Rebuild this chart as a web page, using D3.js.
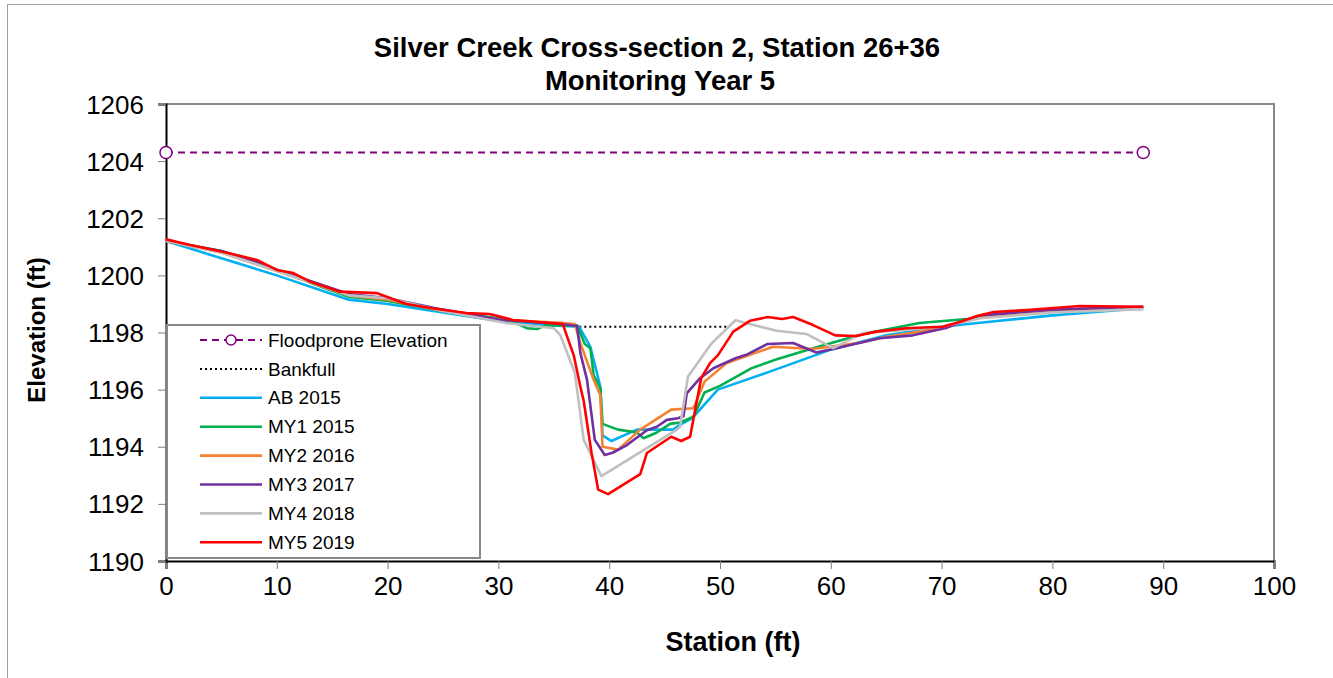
<!DOCTYPE html>
<html>
<head>
<meta charset="utf-8">
<script src="https://cdn.jsdelivr.net/npm/d3@7"></script>
<style>
  body { margin: 0; background: #ffffff; }
  svg { font-family: "Liberation Sans", Arial, sans-serif; }
</style>
</head>
<body>
<svg id="chart"></svg>
<script>
const width = 1333
const height = 678

// Data
const floodX = [0, 88.2]
const floodY = [1204.3, 1204.3]
const bankfullX = [37.3, 50.9]
const bankfullY = [1198.2, 1198.2]

const abX = [0, 5, 10, 16.5, 20, 25, 30, 35, 37.3, 38.3, 39.2, 39.4, 40.2, 42.5, 45.8, 46.3, 47.5, 49.8, 55, 60, 65, 70, 75, 80, 85, 88.2]
const abY = [1201.2, 1200.6, 1200.0, 1199.15, 1199.0, 1198.7, 1198.4, 1198.25, 1198.2, 1197.5, 1196.1, 1194.4, 1194.2, 1194.6, 1194.6, 1194.75, 1195.0, 1196.0, 1196.7, 1197.4, 1197.9, 1198.2, 1198.4, 1198.6, 1198.75, 1198.85]

const my1X = [0, 5, 10, 14, 16.5, 20, 25, 30, 31.5, 32.6, 33.5, 34.2, 37.1, 37.8, 38.3, 38.6, 39.2, 39.4, 40.8, 42.5, 43.1, 44.3, 45.5, 46.4, 47.6, 48.6, 50.0, 52.9, 55.2, 58.4, 62.9, 68, 72.3, 76, 80, 85, 88.2]
const my1Y = [1201.2, 1200.85, 1200.2, 1199.6, 1199.25, 1199.1, 1198.75, 1198.5, 1198.35, 1198.15, 1198.12, 1198.25, 1198.25, 1197.6, 1197.45, 1196.5, 1196.05, 1194.8, 1194.6, 1194.5, 1194.3, 1194.5, 1194.8, 1194.85, 1195.05, 1195.9, 1196.13, 1196.76, 1197.07, 1197.45, 1197.95, 1198.33, 1198.47, 1198.65, 1198.75, 1198.85, 1198.88]

const my2X = [0, 5, 10, 16.5, 20, 25, 30, 35.6, 36.9, 37.4, 38.6, 39.2, 39.4, 40.8, 42.8, 45.6, 47.6, 48.6, 50.6, 54.8, 58.4, 62.6, 65, 70, 73.5, 80, 85, 88.2]
const my2Y = [1201.2, 1200.8, 1200.15, 1199.3, 1199.15, 1198.75, 1198.45, 1198.34, 1198.3, 1197.63, 1196.34, 1195.8, 1194.0, 1193.9, 1194.6, 1195.3, 1195.35, 1196.28, 1196.93, 1197.5, 1197.42, 1197.64, 1197.85, 1198.15, 1198.55, 1198.75, 1198.85, 1198.88]

const my3X = [0, 5, 8, 10, 16.5, 20, 25, 30, 35.6, 37.1, 37.4, 38.0, 38.7, 39.6, 40.3, 41.6, 43.4, 44.3, 45.2, 46.2, 46.7, 47.0, 48.2, 49.4, 51.4, 52.5, 54.3, 56.6, 58.7, 60.2, 64.4, 67.4, 70.5, 73.5, 80, 88.2]
const my3Y = [1201.2, 1200.85, 1200.5, 1200.2, 1199.35, 1199.2, 1198.8, 1198.45, 1198.3, 1198.23, 1197.28, 1196.34, 1194.24, 1193.71, 1193.79, 1194.06, 1194.58, 1194.7, 1194.94, 1195.0, 1195.07, 1195.87, 1196.4, 1196.75, 1197.1, 1197.24, 1197.6, 1197.63, 1197.3, 1197.42, 1197.8, 1197.9, 1198.17, 1198.6, 1198.8, 1198.9]

const my4X = [0, 5, 10, 16.5, 20, 25, 30.7, 35, 35.6, 36.9, 37.7, 39.3, 46.1, 46.4, 47.1, 49.2, 51.4, 55.1, 57.8, 60.2, 62.9, 67, 70, 73.5, 80, 88.2]
const my4Y = [1201.2, 1200.8, 1200.15, 1199.3, 1199.2, 1198.75, 1198.33, 1198.15, 1197.9, 1196.58, 1194.24, 1192.97, 1194.6, 1194.7, 1196.45, 1197.6, 1198.43, 1198.06, 1197.95, 1197.45, 1197.98, 1198.1, 1198.2, 1198.5, 1198.7, 1198.82]

const my5X = [0, 2.2, 5.1, 8.2, 10, 11.5, 13, 15.7, 19.0, 21.7, 24, 27.1, 29.2, 31.3, 35.8, 36.8, 37.4, 37.7, 38.4, 39.0, 39.9, 42.8, 43.4, 45.6, 46.5, 47.3, 48.3, 49.1, 49.8, 51.2, 52.7, 54.3, 55.6, 56.6, 58.4, 60.4, 62.3, 64.1, 66.8, 70.1, 71.7, 73.2, 74.7, 77.7, 82.5, 88.2]
const my5Y = [1201.26, 1201.06, 1200.83, 1200.54, 1200.19, 1200.08, 1199.78, 1199.43, 1199.38, 1199.0, 1198.85, 1198.68, 1198.65, 1198.44, 1198.3, 1197.2, 1196.1, 1195.6, 1193.8, 1192.5, 1192.34, 1193.04, 1193.78, 1194.35, 1194.2, 1194.35, 1196.4, 1196.93, 1197.2, 1198.03, 1198.41, 1198.54, 1198.47, 1198.54, 1198.26, 1197.9, 1197.88, 1198.03, 1198.15, 1198.2, 1198.38, 1198.58, 1198.72, 1198.79, 1198.93, 1198.9]

const xTicks = [0, 10, 20, 30, 40, 50, 60, 70, 80, 90, 100]
const yTicks = [1190, 1192, 1194, 1196, 1198, 1200, 1202, 1204, 1206]

const series = [
    { name: "AB 2015", xs: abX, ys: abY, color: "#00B0F0" },
    { name: "MY1 2015", xs: my1X, ys: my1Y, color: "#00B050" },
    { name: "MY2 2016", xs: my2X, ys: my2Y, color: "#F58233" },
    { name: "MY3 2017", xs: my3X, ys: my3Y, color: "#7030A0" },
    { name: "MY4 2018", xs: my4X, ys: my4Y, color: "#C0C0C0" },
    { name: "MY5 2019", xs: my5X, ys: my5Y, color: "#FF0000" }
]

// Layout
const plotLeft = 166
const plotRight = 1274
const plotTop = 104
const plotBottom = 561

const svg = d3.select("#chart")
    .attr("width", width)
    .attr("height", height)

// outer chart border (left and top edges visible)
svg.append("rect")
    .attr("x", 7.5).attr("y", 4.5)
    .attr("width", width + 10).attr("height", height + 10)
    .attr("fill", "#ffffff")
    .attr("stroke", "#A0A0A0")
    .attr("stroke-width", 1)

const x = d3.scaleLinear().domain([0, 100]).range([plotLeft, plotRight])
const y = d3.scaleLinear().domain([1190, 1206]).range([plotBottom, plotTop])

// plot frame (top and right gray)
svg.append("path")
    .attr("d", `M${plotLeft},${plotTop}H${plotRight}V${plotBottom}`)
    .attr("fill", "none")
    .attr("stroke", "#888888")
    .attr("stroke-width", 2)

// axes
const xAxis = svg.append("g")
    .attr("transform", `translate(0,${plotBottom})`)
    .call(d3.axisBottom(x).tickValues(xTicks).tickSize(8).tickPadding(8))
const yAxis = svg.append("g")
    .attr("transform", `translate(${plotLeft},0)`)
    .call(d3.axisLeft(y).tickValues(yTicks).tickFormat(d3.format("d")).tickSize(8).tickPadding(14))

for (const ax of [xAxis, yAxis]) {
    ax.select(".domain").attr("stroke", "#000000").attr("stroke-width", 2)
    ax.selectAll(".tick line").attr("stroke", "#7f7f7f").attr("stroke-width", 1)
    ax.selectAll(".tick text")
        .attr("fill", "#000000")
        .attr("font-size", 26)
        .attr("font-family", "Liberation Sans, Arial, sans-serif")
}
yAxis.selectAll(".tick text").attr("dy", "0.35em")

const line = d3.line()
    .x(d => x(d[0]))
    .y(d => y(d[1]))

const zip = (xs, ys) => xs.map((v, i) => [v, ys[i]])

// floodprone line
svg.append("path")
    .datum(zip(floodX, floodY))
    .attr("d", line)
    .attr("fill", "none")
    .attr("stroke", "#800080")
    .attr("stroke-width", 2)
    .attr("stroke-dasharray", "7,5")

svg.selectAll(".flood-pt")
    .data(zip(floodX, floodY))
    .enter()
    .append("circle")
    .attr("class", "flood-pt")
    .attr("cx", d => x(d[0]))
    .attr("cy", d => y(d[1]))
    .attr("r", 6)
    .attr("fill", "#ffffff")
    .attr("stroke", "#800080")
    .attr("stroke-width", 1.5)

// bankfull
svg.append("path")
    .datum(zip(bankfullX, bankfullY))
    .attr("d", line)
    .attr("fill", "none")
    .attr("stroke", "#000000")
    .attr("stroke-width", 2)
    .attr("stroke-dasharray", "2,3")

// survey series
svg.append("g")
    .selectAll("path")
    .data(series)
    .enter()
    .append("path")
    .attr("d", s => line(zip(s.xs, s.ys)))
    .attr("fill", "none")
    .attr("stroke", s => s.color)
    .attr("stroke-width", 2.6)
    .attr("stroke-linejoin", "round")

// legend
const legend = svg.append("g")
legend.append("rect")
    .attr("x", 167).attr("y", 325)
    .attr("width", 313).attr("height", 233)
    .attr("fill", "#ffffff")
    .attr("stroke", "#888888")
    .attr("stroke-width", 2)

const legendItems = [
    { name: "Floodprone Elevation", color: "#800080", dash: "7,5", width: 2, marker: true },
    { name: "Bankfull", color: "#000000", dash: "2,3", width: 2 }
].concat(series.map(s => ({ name: s.name, color: s.color, dash: null, width: 2.6 })))

const rows = legend.selectAll(".row")
    .data(legendItems)
    .enter()
    .append("g")
    .attr("transform", (d, i) => `translate(0,${340 + i * 28.9})`)

rows.append("line")
    .attr("x1", 200).attr("x2", 262)
    .attr("stroke", d => d.color)
    .attr("stroke-width", d => d.width)
    .attr("stroke-dasharray", d => d.dash)

rows.filter(d => d.marker)
    .append("circle")
    .attr("cx", 231).attr("r", 5)
    .attr("fill", "#ffffff")
    .attr("stroke", "#800080")
    .attr("stroke-width", 1.5)

rows.append("text")
    .attr("x", 268)
    .attr("dy", "0.35em")
    .attr("font-size", 19)
    .text(d => d.name)

// titles
svg.append("text")
    .attr("x", 657).attr("y", 57)
    .attr("text-anchor", "middle")
    .attr("font-size", 27.5).attr("font-weight", "bold")
    .text("Silver Creek Cross-section 2, Station 26+36")
svg.append("text")
    .attr("x", 660).attr("y", 90)
    .attr("text-anchor", "middle")
    .attr("font-size", 27.5).attr("font-weight", "bold")
    .text("Monitoring Year 5")

svg.append("text")
    .attr("x", 733).attr("y", 651)
    .attr("text-anchor", "middle")
    .attr("font-size", 27).attr("font-weight", "bold")
    .text("Station (ft)")

svg.append("text")
    .attr("transform", "translate(45,330) rotate(-90)")
    .attr("text-anchor", "middle")
    .attr("font-size", 24).attr("font-weight", "bold")
    .text("Elevation (ft)")
</script>
</body>
</html>
